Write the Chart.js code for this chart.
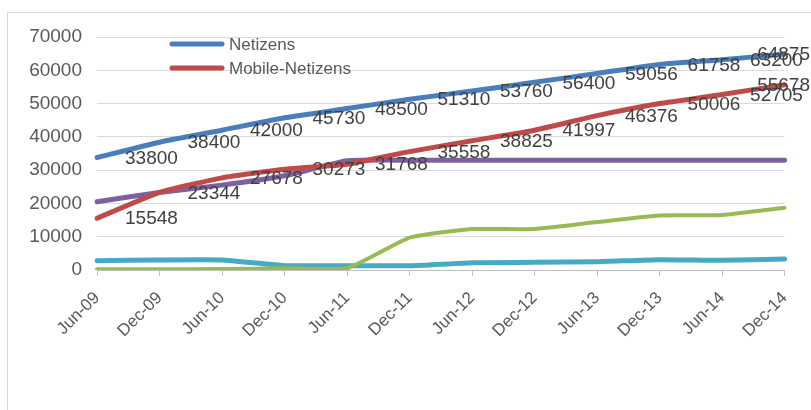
<!DOCTYPE html>
<html><head><meta charset="utf-8">
<script src="https://cdn.jsdelivr.net/npm/chart.js@4/dist/chart.umd.min.js"></script>
<style>html,body{margin:0;padding:0;background:#fff}#wrap{width:811px;height:410px}</style>
</head><body><div id="wrap"><canvas id="c" width="811" height="410"></canvas></div>
<script>
const categories = ['Jun-09','Dec-09','Jun-10','Dec-10','Jun-11','Dec-11','Jun-12','Dec-12','Jun-13','Dec-13','Jun-14','Dec-14'];
const netizens = [33800,38400,42000,45730,48500,51310,53760,56400,59056,61758,63200,64875];
const mobileNetizens = [15548,23344,27678,30273,31768,35558,38825,41997,46376,50006,52705,55678];
const series3 = [20500,23300,25500,28300,32800,33000,33000,33000,33000,33000,33000,33000];
const series4 = [200,200,300,500,500,9700,12300,12300,14400,16400,16500,18700];
const series5 = [2800,3000,3000,1300,1300,1300,2200,2300,2500,3100,2900,3300];
const yTicks = [0,10000,20000,30000,40000,50000,60000,70000];

const FONT = "'Liberation Sans', Arial, sans-serif";

const bgBorder = {
  id:'bgBorder',
  beforeDraw(chart){
    const c = chart.ctx;
    c.save();
    c.fillStyle='#fff'; c.fillRect(0,0,chart.width,chart.height);
    c.strokeStyle='#d9d9d9'; c.lineWidth=1;
    c.strokeRect(7.5,12.5,900,500);
    c.restore();
  }
};

const labelsPlugin = {
  id:'valLabels',
  afterDatasetsDraw(chart){
    const c = chart.ctx;
    c.save();
    c.font = '19px ' + FONT;
    c.fillStyle = '#404040';
    c.textBaseline = 'middle';
    c.textAlign = 'left';
    [0,1].forEach(di=>{
      const meta = chart.getDatasetMeta(di);
      const data = chart.data.datasets[di].data;
      meta.data.forEach((pt,i)=>{
        const t = String(data[i]);
        const w = c.measureText(t).width;
        let x = pt.x + 28;
        if (x + w > 810) x = 810 - w;
        c.fillText(t, x, pt.y + 1);
      });
    });
    c.restore();
  }
};

const legendPlugin = {
  id:'inLegend',
  afterDraw(chart){
    const c = chart.ctx;
    c.save();
    const items = [[chart.data.datasets[0], 44],[chart.data.datasets[1], 68]];
    c.font = '17px ' + FONT;
    c.textBaseline='middle'; c.textAlign='left';
    items.forEach(([ds,y])=>{
      c.strokeStyle = ds.borderColor; c.lineWidth=5; c.lineCap='round';
      c.beginPath(); c.moveTo(172,y); c.lineTo(222,y); c.stroke();
      c.fillStyle='#595959';
      c.fillText(ds.label, 229, y+1);
    });
    c.restore();
  }
};

new Chart(document.getElementById('c'), {
  type:'line',
  data:{
    labels: categories,
    datasets:[
      {label:'Netizens', data:netizens, borderColor:'#4A7EBB', borderWidth:5},
      {label:'Mobile-Netizens', data:mobileNetizens, borderColor:'#BE4B48', borderWidth:5},
      {label:'Series3', data:series3, borderColor:'#7D60A0', borderWidth:5},
      {label:'Series4', data:series4, borderColor:'#98B954', borderWidth:4},
      {label:'Series5', data:series5, borderColor:'#46AAC5', borderWidth:5}
    ]
  },
  options:{
    responsive:false, animation:false, devicePixelRatio:1,
    layout:{padding:{left:0,right:21,top:37,bottom:0}},
    elements:{point:{radius:0,hoverRadius:0}, line:{tension:0.15, borderCapStyle:'round', borderJoinStyle:'round'}},
    plugins:{legend:{display:false}, tooltip:{enabled:false}},
    scales:{
      x:{
        type:'category', offset:false,
        grid:{display:true, drawOnChartArea:false, drawTicks:true, tickLength:6, color:'#bfbfbf'},
        border:{display:true, color:'#bfbfbf'},
        ticks:{maxRotation:45, minRotation:45, autoSkip:false, color:'#595959', font:{family:FONT, size:17}, padding:12},
        afterFit(s){ s.height = 140; }
      },
      y:{
        min:0, max:70000,
        afterBuildTicks(s){ s.ticks = yTicks.map(v=>({value:v})); },
        grid:{color:'#d9d9d9', drawTicks:false},
        border:{display:false},
        ticks:{color:'#595959', font:{family:FONT, size:19}, padding:15, callback:(v)=>String(v)},
        afterFit(s){ s.width = 97; }
      }
    }
  },
  plugins:[bgBorder, labelsPlugin, legendPlugin]
});
</script></body></html>
